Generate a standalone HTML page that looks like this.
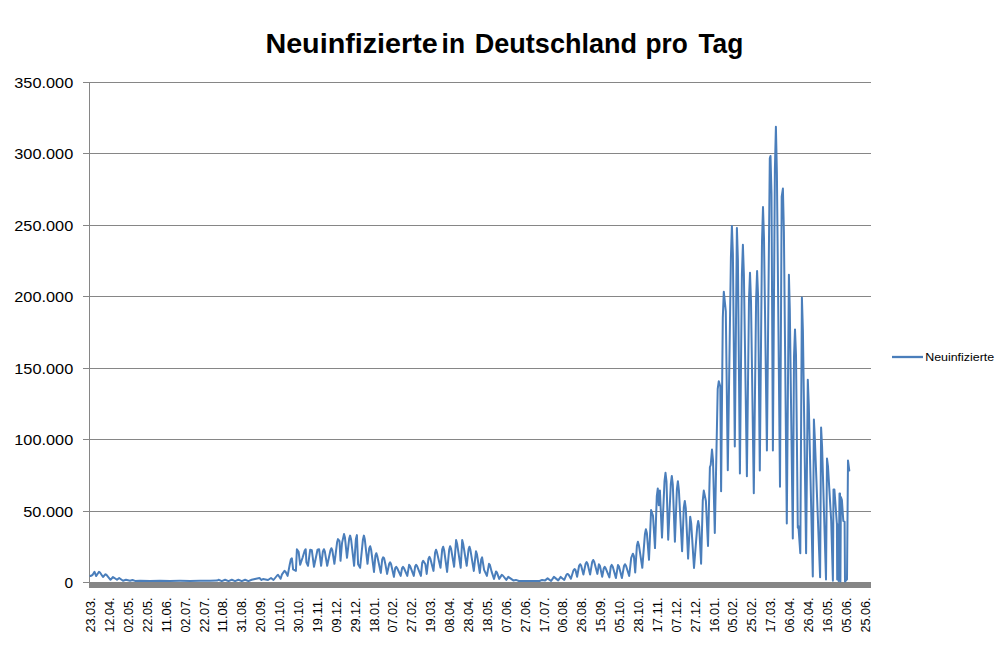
<!DOCTYPE html>
<html lang="de">
<head>
<meta charset="utf-8">
<title>Neuinfizierte in Deutschland pro Tag</title>
<style>
html,body{margin:0;padding:0;background:#fff;}
body{width:1000px;height:645px;overflow:hidden;font-family:"Liberation Sans",sans-serif;}
svg{display:block;}
text{font-family:"Liberation Sans",sans-serif;fill:#000;}
.t{font-weight:bold;font-size:27.5px;}
.y{font-size:15.5px;}
.x{font-size:12px;}
.l{font-size:11px;}
</style>
</head>
<body>
<svg width="1000" height="645" viewBox="0 0 1000 645">
<rect width="1000" height="645" fill="#fff"/>
<text class="t" y="52.7"><tspan x="265.40" textLength="172.41" lengthAdjust="spacingAndGlyphs">Neuinfizierte</tspan> <tspan x="441.60" textLength="23.45" lengthAdjust="spacingAndGlyphs">in</tspan> <tspan x="474.80" textLength="162.24" lengthAdjust="spacingAndGlyphs">Deutschland</tspan> <tspan x="645.60" textLength="42.26" lengthAdjust="spacingAndGlyphs">pro</tspan> <tspan x="698.40" textLength="44.82" lengthAdjust="spacingAndGlyphs">Tag</tspan></text>
<g stroke="#868686" stroke-width="1" shape-rendering="crispEdges">
<line x1="83" y1="82.5" x2="871" y2="82.5"/>
<line x1="83" y1="153.5" x2="871" y2="153.5"/>
<line x1="83" y1="225.5" x2="871" y2="225.5"/>
<line x1="83" y1="296.5" x2="871" y2="296.5"/>
<line x1="83" y1="368.5" x2="871" y2="368.5"/>
<line x1="83" y1="439.5" x2="871" y2="439.5"/>
<line x1="83" y1="511.5" x2="871" y2="511.5"/>
<line x1="83" y1="582.5" x2="871" y2="582.5"/>
<line x1="89.5" y1="82" x2="89.5" y2="583"/>
</g>
<rect x="89" y="582" width="782" height="6" fill="#868686"/>
<text class="y" x="14.3" y="87.6" textLength="58.9" lengthAdjust="spacingAndGlyphs">350.000</text>
<text class="y" x="14.3" y="158.6" textLength="58.9" lengthAdjust="spacingAndGlyphs">300.000</text>
<text class="y" x="14.3" y="230.6" textLength="58.9" lengthAdjust="spacingAndGlyphs">250.000</text>
<text class="y" x="14.3" y="301.6" textLength="58.9" lengthAdjust="spacingAndGlyphs">200.000</text>
<text class="y" x="14.3" y="373.6" textLength="58.9" lengthAdjust="spacingAndGlyphs">150.000</text>
<text class="y" x="14.3" y="444.6" textLength="58.9" lengthAdjust="spacingAndGlyphs">100.000</text>
<text class="y" x="23.3" y="516.6" textLength="49.9" lengthAdjust="spacingAndGlyphs">50.000</text>
<text class="y" x="64.6" y="587.6" textLength="8.6" lengthAdjust="spacingAndGlyphs">0</text>
<text class="x" transform="translate(95.20,632.4) rotate(-90)" textLength="35.0" lengthAdjust="spacingAndGlyphs">23.03.</text>
<text class="x" transform="translate(114.09,632.4) rotate(-90)" textLength="35.0" lengthAdjust="spacingAndGlyphs">12.04.</text>
<text class="x" transform="translate(132.98,632.4) rotate(-90)" textLength="35.0" lengthAdjust="spacingAndGlyphs">02.05.</text>
<text class="x" transform="translate(151.87,632.4) rotate(-90)" textLength="35.0" lengthAdjust="spacingAndGlyphs">22.05.</text>
<text class="x" transform="translate(170.76,632.4) rotate(-90)" textLength="35.0" lengthAdjust="spacingAndGlyphs">11.06.</text>
<text class="x" transform="translate(189.65,632.4) rotate(-90)" textLength="35.0" lengthAdjust="spacingAndGlyphs">02.07.</text>
<text class="x" transform="translate(208.54,632.4) rotate(-90)" textLength="35.0" lengthAdjust="spacingAndGlyphs">22.07.</text>
<text class="x" transform="translate(227.43,632.4) rotate(-90)" textLength="35.0" lengthAdjust="spacingAndGlyphs">11.08.</text>
<text class="x" transform="translate(246.32,632.4) rotate(-90)" textLength="35.0" lengthAdjust="spacingAndGlyphs">31.08.</text>
<text class="x" transform="translate(265.21,632.4) rotate(-90)" textLength="35.0" lengthAdjust="spacingAndGlyphs">20.09.</text>
<text class="x" transform="translate(284.10,632.4) rotate(-90)" textLength="35.0" lengthAdjust="spacingAndGlyphs">10.10.</text>
<text class="x" transform="translate(302.99,632.4) rotate(-90)" textLength="35.0" lengthAdjust="spacingAndGlyphs">30.10.</text>
<text class="x" transform="translate(321.88,632.4) rotate(-90)" textLength="35.0" lengthAdjust="spacingAndGlyphs">19.11.</text>
<text class="x" transform="translate(340.77,632.4) rotate(-90)" textLength="35.0" lengthAdjust="spacingAndGlyphs">09.12.</text>
<text class="x" transform="translate(359.66,632.4) rotate(-90)" textLength="35.0" lengthAdjust="spacingAndGlyphs">29.12.</text>
<text class="x" transform="translate(378.55,632.4) rotate(-90)" textLength="35.0" lengthAdjust="spacingAndGlyphs">18.01.</text>
<text class="x" transform="translate(397.44,632.4) rotate(-90)" textLength="35.0" lengthAdjust="spacingAndGlyphs">07.02.</text>
<text class="x" transform="translate(416.33,632.4) rotate(-90)" textLength="35.0" lengthAdjust="spacingAndGlyphs">27.02.</text>
<text class="x" transform="translate(435.22,632.4) rotate(-90)" textLength="35.0" lengthAdjust="spacingAndGlyphs">19.03.</text>
<text class="x" transform="translate(454.11,632.4) rotate(-90)" textLength="35.0" lengthAdjust="spacingAndGlyphs">08.04.</text>
<text class="x" transform="translate(473.00,632.4) rotate(-90)" textLength="35.0" lengthAdjust="spacingAndGlyphs">28.04.</text>
<text class="x" transform="translate(491.89,632.4) rotate(-90)" textLength="35.0" lengthAdjust="spacingAndGlyphs">18.05.</text>
<text class="x" transform="translate(510.78,632.4) rotate(-90)" textLength="35.0" lengthAdjust="spacingAndGlyphs">07.06.</text>
<text class="x" transform="translate(529.67,632.4) rotate(-90)" textLength="35.0" lengthAdjust="spacingAndGlyphs">27.06.</text>
<text class="x" transform="translate(548.56,632.4) rotate(-90)" textLength="35.0" lengthAdjust="spacingAndGlyphs">17.07.</text>
<text class="x" transform="translate(567.45,632.4) rotate(-90)" textLength="35.0" lengthAdjust="spacingAndGlyphs">06.08.</text>
<text class="x" transform="translate(586.34,632.4) rotate(-90)" textLength="35.0" lengthAdjust="spacingAndGlyphs">26.08.</text>
<text class="x" transform="translate(605.23,632.4) rotate(-90)" textLength="35.0" lengthAdjust="spacingAndGlyphs">15.09.</text>
<text class="x" transform="translate(624.12,632.4) rotate(-90)" textLength="35.0" lengthAdjust="spacingAndGlyphs">05.10.</text>
<text class="x" transform="translate(643.01,632.4) rotate(-90)" textLength="35.0" lengthAdjust="spacingAndGlyphs">28.10.</text>
<text class="x" transform="translate(661.90,632.4) rotate(-90)" textLength="35.0" lengthAdjust="spacingAndGlyphs">17.11.</text>
<text class="x" transform="translate(680.79,632.4) rotate(-90)" textLength="35.0" lengthAdjust="spacingAndGlyphs">07.12.</text>
<text class="x" transform="translate(699.68,632.4) rotate(-90)" textLength="35.0" lengthAdjust="spacingAndGlyphs">27.12.</text>
<text class="x" transform="translate(718.57,632.4) rotate(-90)" textLength="35.0" lengthAdjust="spacingAndGlyphs">16.01.</text>
<text class="x" transform="translate(737.46,632.4) rotate(-90)" textLength="35.0" lengthAdjust="spacingAndGlyphs">05.02.</text>
<text class="x" transform="translate(756.35,632.4) rotate(-90)" textLength="35.0" lengthAdjust="spacingAndGlyphs">25.02.</text>
<text class="x" transform="translate(775.24,632.4) rotate(-90)" textLength="35.0" lengthAdjust="spacingAndGlyphs">17.03.</text>
<text class="x" transform="translate(794.13,632.4) rotate(-90)" textLength="35.0" lengthAdjust="spacingAndGlyphs">06.04.</text>
<text class="x" transform="translate(813.02,632.4) rotate(-90)" textLength="35.0" lengthAdjust="spacingAndGlyphs">26.04.</text>
<text class="x" transform="translate(831.91,632.4) rotate(-90)" textLength="35.0" lengthAdjust="spacingAndGlyphs">16.05.</text>
<text class="x" transform="translate(850.80,632.4) rotate(-90)" textLength="35.0" lengthAdjust="spacingAndGlyphs">05.06.</text>
<text class="x" transform="translate(869.69,632.4) rotate(-90)" textLength="35.0" lengthAdjust="spacingAndGlyphs">25.06.</text>
<path d="M90.5,576.0 L92.5,575.0 L94.5,571.8 L96.2,576.0 L99.0,571.8 L100.0,572.5 L103.0,577.0 L105.5,574.2 L106.5,574.9 L110.5,579.8 L113.0,577.0 L117.0,579.8 L119.2,578.0 L123.0,580.8 L126.0,579.8 L130.0,580.8 L132.5,580.0 L135.0,580.9 L140.0,580.8 L150.0,580.9 L160.0,580.7 L170.0,580.9 L180.0,580.8 L190.0,580.9 L200.0,580.8 L210.0,580.8 L217.0,580.6 L218.5,579.8 L221.8,581.1 L225.1,579.8 L228.5,581.1 L231.8,579.8 L235.1,581.1 L238.4,579.8 L241.8,581.1 L245.1,579.8 L248.4,581.1 L251.7,579.8 L255.0,579.0 L259.5,578.0 L261.5,580.0 L263.0,579.0 L268.0,580.0 L271.0,578.0 L273.5,580.0 L277.1,575.5 L278.0,574.8 L280.6,578.8 L282.0,574.4 L284.5,570.9 L285.4,571.5 L287.6,575.9 L289.6,565.3 L290.9,559.2 L291.9,558.3 L293.1,569.4 L295.9,570.9 L296.9,549.2 L298.6,551.7 L300.2,564.8 L302.7,557.3 L304.8,550.3 L305.7,549.2 L306.4,562.3 L308.0,565.8 L310.2,549.7 L311.8,550.2 L314.0,566.8 L317.5,549.7 L319.1,549.2 L321.1,565.8 L322.9,551.4 L323.9,549.2 L324.8,551.4 L327.2,565.8 L330.4,550.5 L331.4,548.2 L332.3,550.2 L334.4,563.8 L337.1,542.3 L338.0,539.1 L339.5,541.1 L340.5,560.8 L342.0,543.1 L344.0,534.1 L344.9,537.2 L347.0,557.8 L349.2,538.5 L350.1,535.6 L351.1,539.5 L354.1,565.8 L355.9,539.1 L356.9,535.1 L358.1,564.3 L360.1,567.8 L362.9,539.8 L363.9,535.6 L364.8,539.3 L367.5,563.8 L369.2,548.5 L370.2,546.2 L371.1,549.5 L374.0,571.9 L375.4,555.6 L376.3,553.2 L377.2,555.8 L380.8,572.9 L382.2,559.3 L383.1,557.3 L384.1,558.3 L385.6,565.3 L387.1,573.9 L389.2,563.8 L390.1,562.3 L391.1,564.2 L393.9,576.9 L395.2,568.1 L396.2,566.8 L397.1,568.0 L400.7,575.9 L402.1,568.0 L403.0,566.8 L403.9,568.0 L407.3,575.9 L409.1,564.8 L410.1,566.2 L413.8,575.9 L415.2,566.2 L416.1,564.8 L417.1,566.2 L420.9,575.9 L422.2,562.8 L423.2,560.8 L425.4,564.3 L426.7,573.9 L428.4,559.0 L429.4,556.8 L430.3,558.6 L433.5,570.9 L435.1,552.5 L436.0,549.7 L436.9,552.1 L440.5,567.8 L442.2,549.4 L443.2,546.7 L444.1,550.0 L447.1,571.9 L449.2,549.5 L450.1,546.2 L451.1,548.9 L454.1,566.8 L456.1,540.1 L457.1,543.7 L460.7,567.8 L462.2,540.1 L463.1,543.4 L466.7,565.8 L468.6,549.2 L469.5,546.7 L470.4,549.8 L473.8,570.9 L476.0,551.2 L476.9,554.0 L479.8,572.9 L481.2,559.3 L482.1,557.3 L484.1,569.9 L486.9,575.9 L489.0,563.8 L489.9,564.9 L491.7,571.9 L494.0,578.9 L496.0,571.4 L496.9,572.4 L499.2,578.9 L501.8,574.9 L502.8,575.5 L506.3,579.9 L508.3,576.9 L513.3,580.4 L515.9,579.9 L518.9,581.0 L525.0,580.9 L532.0,581.0 L539.6,581.0 L542.1,579.9 L545.1,580.4 L547.6,578.4 L551.1,581.0 L553.9,576.9 L558.2,580.4 L560.7,576.9 L564.3,579.9 L566.5,574.7 L567.5,573.9 L568.5,574.5 L570.9,578.8 L573.5,570.3 L574.5,569.0 L575.5,570.0 L577.1,576.7 L579.1,565.8 L580.1,564.2 L581.1,565.6 L583.4,574.6 L585.6,563.7 L586.6,562.1 L587.6,563.7 L590.1,574.6 L592.2,561.9 L593.2,560.0 L594.2,561.8 L597.4,573.9 L598.9,564.2 L599.9,565.8 L602.2,576.7 L603.8,568.2 L604.7,566.9 L605.7,568.3 L609.4,577.4 L610.8,566.5 L611.7,564.9 L612.7,566.6 L615.9,578.1 L618.0,564.9 L619.0,566.6 L621.9,578.1 L624.0,566.0 L625.0,564.2 L626.0,565.7 L629.2,576.0 L631.2,557.9 L632.9,553.7 L633.9,556.1 L635.2,572.5 L636.9,545.8 L637.9,541.8 L638.9,545.2 L642.3,567.8 L644.9,534.3 L645.9,529.3 L646.9,533.3 L649.0,559.8 L651.1,510.1 L653.0,515.7 L655.0,548.1 L656.8,496.2 L657.8,488.5 L658.8,505.2 L659.9,490.6 L662.0,537.6 L664.5,481.2 L665.5,472.8 L666.5,481.5 L668.2,539.7 L670.8,484.2 L671.8,475.9 L672.8,484.5 L674.9,541.8 L676.9,489.1 L677.9,481.2 L678.9,490.3 L682.1,551.2 L683.8,507.5 L684.8,501.0 L685.8,508.5 L688.1,558.6 L690.2,516.7 L691.2,523.4 L694.0,568.0 L697.2,527.0 L698.2,520.9 L699.2,526.5 L701.1,563.8 L702.8,500.1 L703.8,490.6 L705.9,501.0 L708.0,546.0 L709.9,467.0 L710.7,465.0 L712.0,449.5 L713.0,460.4 L714.8,533.0 L717.7,389.0 L718.8,381.2 L720.3,386.5 L721.1,491.3 L722.8,317.6 L723.8,291.7 L725.8,311.3 L727.8,470.2 L730.9,257.7 L731.9,225.9 L732.9,254.6 L734.8,446.4 L736.9,227.9 L737.9,259.8 L739.9,473.6 L741.9,274.5 L742.9,244.8 L743.9,274.9 L746.9,476.2 L749.0,299.2 L750.0,272.7 L751.0,301.4 L753.8,493.3 L756.1,299.9 L757.1,271.0 L758.1,296.9 L759.8,470.6 L762.0,241.3 L763.0,207.0 L764.0,238.6 L766.9,450.4 L769.8,158.4 L770.5,156.0 L771.5,194.3 L772.9,450.4 L774.9,168.8 L775.9,126.7 L776.9,173.5 L780.0,486.7 L781.7,196.7 L782.9,188.6 L783.9,232.1 L786.8,523.4 L788.9,274.8 L789.8,309.1 L792.8,538.5 L794.0,356.6 L795.0,329.4 L796.0,355.2 L797.8,527.8 L798.4,526.0 L800.3,553.2 L801.9,297.5 L802.9,330.7 L806.1,553.2 L807.8,379.8 L808.8,405.4 L812.8,576.5 L813.9,419.6 L814.9,440.1 L820.1,577.3 L821.1,427.6 L822.1,447.3 L826.0,579.5 L827.0,458.6 L828.0,466.7 L831.2,520.8 L832.9,580.7 L833.5,489.5 L834.4,489.5 L836.9,524.3 L837.2,579.4 L837.9,524.7 L838.6,581.0 L839.2,524.5 L839.5,493.5 L840.0,493.5 L840.4,581.5 L840.9,497.0 L841.9,500.1 L843.3,520.9 L844.6,521.8 L845.0,581.5 L847.0,579.4 L848.0,460.6 L849.3,470.6" fill="none" stroke="#4a7ebb" stroke-width="2.0" stroke-linejoin="round" stroke-linecap="round"/>
<line x1="892" y1="357" x2="923" y2="357" stroke="#4a7ebb" stroke-width="2.3"/>
<text class="l" x="925.2" y="360.7" textLength="69.0" lengthAdjust="spacingAndGlyphs">Neuinfizierte</text>
</svg>
</body>
</html>
